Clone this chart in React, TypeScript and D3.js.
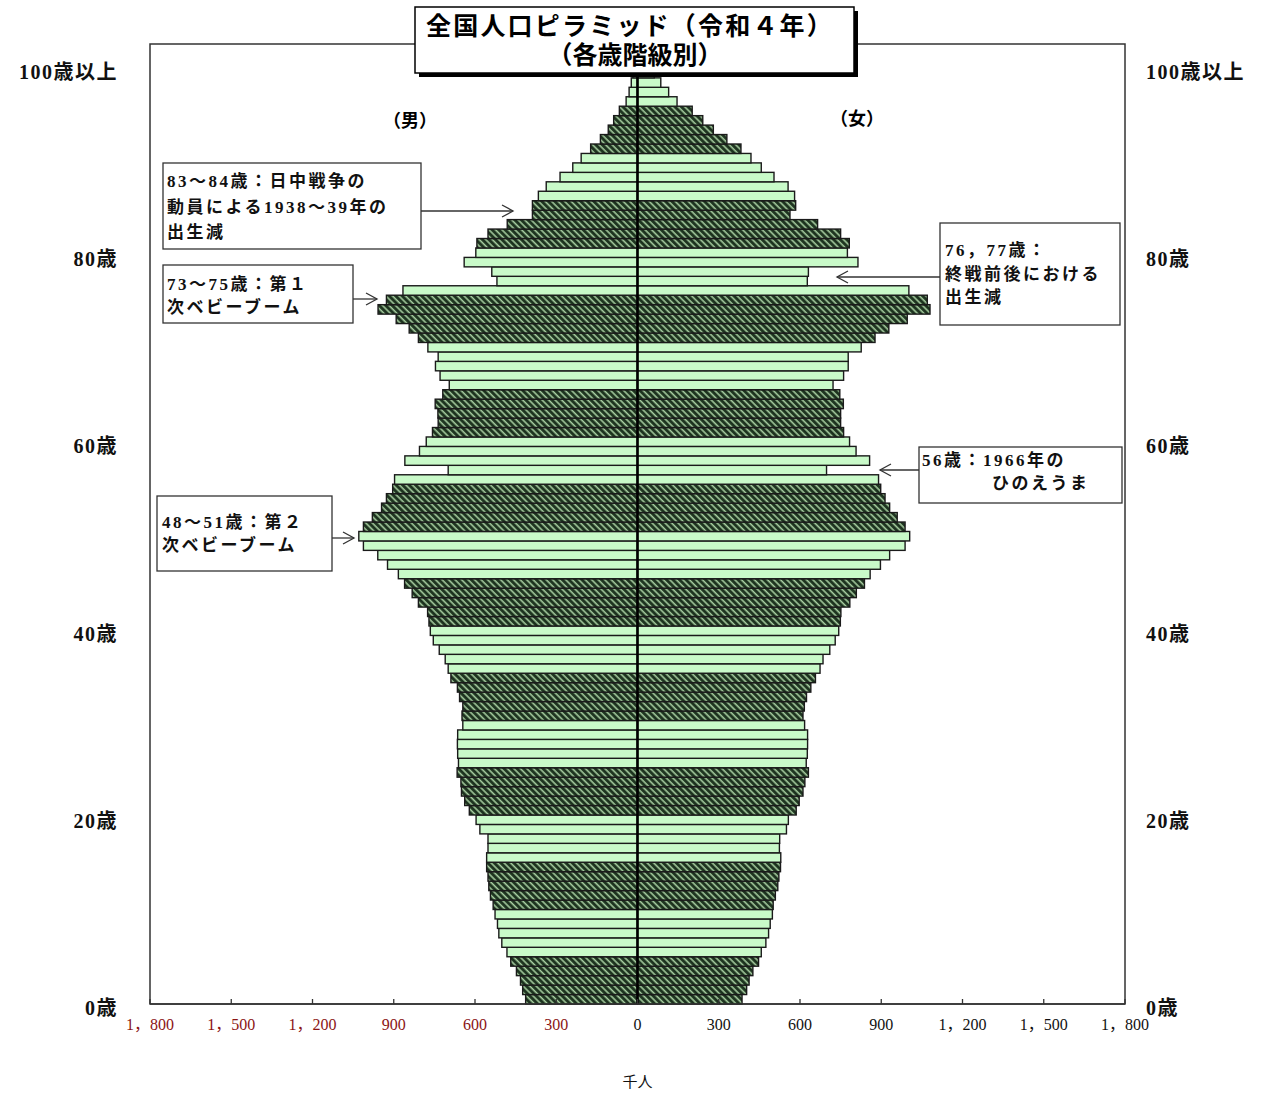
import React, { useRef, useEffect } from 'react';
import * as d3 from 'd3';

// ages 0 .. 100 (100 = 100歳以上)
const ages = d3.range(0, 101);

// 千人
const maleValues = [
  413, 424, 432, 447, 468, 482, 501, 512, 517, 526,
  533, 543, 549, 552, 557, 557, 552, 552, 582, 596,
  621, 638, 650, 652, 666, 661, 664, 665, 664, 645,
  648, 645, 657, 665, 689, 699, 710, 732, 754, 765,
  770, 775, 809, 832, 860, 883, 923, 959, 1012, 1029,
  1012, 979, 945, 927, 904, 897, 699, 859, 805, 780,
  757, 736, 737, 747, 719, 695, 729, 746, 736, 774,
  809, 843, 891, 958, 927, 866, 519, 538, 640, 597,
  593, 552, 481, 388, 388, 366, 337, 286, 239, 208,
  173, 137, 108, 88, 67, 42, 31, 23, 17, 12,
  10,
];

const femaleValues = [
  386, 403, 412, 426, 447, 457, 474, 484, 490, 498,
  501, 509, 518, 522, 528, 529, 524, 525, 550, 557,
  586, 597, 611, 618, 631, 623, 627, 628, 628, 617,
  611, 616, 624, 640, 657, 674, 685, 710, 730, 743,
  749, 751, 784, 808, 838, 859, 897, 931, 988, 1005,
  988, 959, 931, 914, 898, 890, 698, 857, 807, 783,
  761, 750, 750, 760, 747, 722, 761, 778, 778, 826,
  877, 928, 996, 1080, 1070, 1002, 627, 631, 814, 775,
  782, 750, 665, 563, 584, 580, 556, 504, 457, 419,
  382, 330, 280, 241, 202, 146, 115, 86, 62, 45,
  70,
];

const xTickValues = [-1800, -1500, -1200, -900, -600, -300, 0, 300, 600, 900, 1200, 1500, 1800];
const ageTickValues = [0, 20, 40, 60, 80, 100];
const ageTickLabels = ['0歳', '20歳', '40歳', '60歳', '80歳', '100歳以上'];

const titleLines = ['全国人口ピラミッド（令和４年）', '（各歳階級別）'];

const notes = [
  { lines: ['83～84歳：日中戦争の', '動員による1938～39年の', '出生減'], box: [163, 163, 258, 86], tx: [167, 167, 167], ty: [187, 213, 238], arrow: [421, 211, 513, 211] },
  { lines: ['73～75歳：第１', '次ベビーブーム'], box: [163, 265, 190, 58], tx: [167, 167], ty: [290, 313], arrow: [353, 299, 377, 299] },
  { lines: ['76，77歳：', '終戦前後における', '出生減'], box: [940, 223, 180, 102], tx: [945, 945, 945], ty: [256, 280, 303], arrow: [940, 277, 837, 277] },
  { lines: ['56歳：1966年の', 'ひのえうま'], box: [919, 447, 203, 56], tx: [922, 992], ty: [466, 489], arrow: [919, 470, 880, 470] },
  { lines: ['48～51歳：第２', '次ベビーブーム'], box: [157, 496, 175, 75], tx: [162, 162], ty: [528, 551], arrow: [332, 538, 354, 538] },
];

const FONT = '"Liberation Serif", "Noto Sans CJK JP", serif';

const App: React.FC = () => {
  const svgRef = useRef<SVGSVGElement>(null);
  const width = 1269;
  const height = 1095;

  useEffect(() => {
    if (!svgRef.current) return;
    const svg = d3.select(svgRef.current);
    svg.selectAll('*').remove();

    const left = 150;
    const right = 1125;
    const bottom = 1004;
    const frameTop = 44;

    const x = d3.scaleLinear().domain([-1800, 1800]).range([left, right]);
    const y = d3
      .scaleBand<number>()
      .domain(ages)
      .range([bottom, 49.5])
      .padding(0);
    const labelY = d3.scaleLinear().domain([0, 100]).range([1008, 72]);

    // hatch pattern
    const defs = svg.append('defs');
    const pat = defs
      .append('pattern')
      .attr('id', 'hatch')
      .attr('patternUnits', 'userSpaceOnUse')
      .attr('width', 4.6)
      .attr('height', 4.6)
      .attr('patternTransform', 'rotate(-45)');
    pat.append('rect').attr('width', 4.6).attr('height', 4.6).attr('fill', '#a6cc9f');
    pat
      .append('line')
      .attr('x1', 1.6)
      .attr('y1', 0)
      .attr('x2', 1.6)
      .attr('y2', 4.6)
      .attr('stroke', '#1c321e')
      .attr('stroke-width', 3);

    // frame
    svg
      .append('rect')
      .attr('x', left)
      .attr('y', frameTop)
      .attr('width', right - left)
      .attr('height', bottom - frameTop)
      .attr('fill', 'none')
      .attr('stroke', '#333')
      .attr('stroke-width', 1.5);

    const fillFor = (a: number) => (Math.floor(a / 5) % 2 === 0 ? 'url(#hatch)' : '#c9fac9');

    const bars = svg.append('g');
    // male
    bars
      .selectAll('.male')
      .data(ages)
      .enter()
      .append('rect')
      .attr('class', 'male')
      .attr('x', (a) => x(-maleValues[a]))
      .attr('y', (a) => y(a) as number)
      .attr('width', (a) => x(0) - x(-maleValues[a]))
      .attr('height', y.bandwidth())
      .attr('fill', (a) => fillFor(a))
      .attr('stroke', '#1a1a1a')
      .attr('stroke-width', 1.4);
    // female
    bars
      .selectAll('.female')
      .data(ages)
      .enter()
      .append('rect')
      .attr('class', 'female')
      .attr('x', x(0))
      .attr('y', (a) => y(a) as number)
      .attr('width', (a) => x(femaleValues[a]) - x(0))
      .attr('height', y.bandwidth())
      .attr('fill', (a) => fillFor(a))
      .attr('stroke', '#1a1a1a')
      .attr('stroke-width', 1.4);

    // centre line
    svg
      .append('line')
      .attr('x1', x(0))
      .attr('x2', x(0))
      .attr('y1', 49.5)
      .attr('y2', bottom)
      .attr('stroke', '#000')
      .attr('stroke-width', 2.6);

    // x axis ticks
    const axis = svg.append('g');
    axis
      .append('line')
      .attr('x1', left)
      .attr('x2', right)
      .attr('y1', bottom)
      .attr('y2', bottom)
      .attr('stroke', '#333')
      .attr('stroke-width', 1.5);
    axis
      .selectAll('.tick')
      .data(xTickValues)
      .enter()
      .append('line')
      .attr('x1', (d) => x(d))
      .attr('x2', (d) => x(d))
      .attr('y1', bottom)
      .attr('y2', bottom - 5)
      .attr('stroke', '#333')
      .attr('stroke-width', 1.3);
    axis
      .selectAll('.tlabel')
      .data(xTickValues)
      .enter()
      .append('text')
      .attr('x', (d) => x(d))
      .attr('y', 1030)
      .attr('text-anchor', 'middle')
      .attr('font-family', FONT)
      .attr('font-size', 16)
      .attr('fill', (d) => (d < 0 ? '#8b1414' : '#111'))
      .text((d) => d3.format(',')(Math.abs(d)).replace(',', '，'));

    svg
      .append('text')
      .attr('x', x(0))
      .attr('y', 1087)
      .attr('text-anchor', 'middle')
      .attr('font-family', FONT)
      .attr('font-size', 15)
      .attr('fill', '#111')
      .text('千人');

    // age labels both sides
    const ageLab = svg
      .append('g')
      .attr('font-family', FONT)
      .attr('font-size', 20)
      .attr('font-weight', 'bold')
      .attr('fill', '#111');
    ageTickValues.forEach((a, i) => {
      ageLab
        .append('text')
        .attr('x', 118)
        .attr('y', labelY(a) + 7)
        .attr('text-anchor', 'end')
        .attr('letter-spacing', 1.5)
        .text(ageTickLabels[i]);
      ageLab
        .append('text')
        .attr('x', 1146)
        .attr('y', labelY(a) + 7)
        .attr('text-anchor', 'start')
        .attr('letter-spacing', 1.5)
        .text(ageTickLabels[i]);
    });

    // 男 / 女
    svg
      .append('text')
      .attr('x', 410)
      .attr('y', 127)
      .attr('text-anchor', 'middle')
      .attr('font-family', FONT)
      .attr('font-size', 18)
      .attr('font-weight', 'bold')
      .text('（男）');
    svg
      .append('text')
      .attr('x', 857)
      .attr('y', 125)
      .attr('text-anchor', 'middle')
      .attr('font-family', FONT)
      .attr('font-size', 18)
      .attr('font-weight', 'bold')
      .text('（女）');

    // annotations
    notes.forEach((n) => {
      const g = svg.append('g');
      const [bx, by, bw, bh] = n.box;
      g.append('rect')
        .attr('x', bx)
        .attr('y', by)
        .attr('width', bw)
        .attr('height', bh)
        .attr('fill', '#fff')
        .attr('stroke', '#333')
        .attr('stroke-width', 1.3);
      n.lines.forEach((t, i) => {
        g.append('text')
          .attr('x', n.tx[i])
          .attr('y', n.ty[i])
          .attr('font-family', FONT)
          .attr('font-size', 17)
          .attr('font-weight', 'bold')
          .attr('letter-spacing', 2.5)
          .attr('fill', '#111')
          .text(t);
      });
      const [x1, y1, x2, y2] = n.arrow;
      const dir = Math.sign(x2 - x1);
      g.append('line')
        .attr('x1', x1)
        .attr('y1', y1)
        .attr('x2', x2)
        .attr('y2', y2)
        .attr('stroke', '#333')
        .attr('stroke-width', 1.3);
      g.append('path')
        .attr('d', `M${x2 - dir * 11},${y2 - 6}L${x2},${y2}L${x2 - dir * 11},${y2 + 6}`)
        .attr('fill', 'none')
        .attr('stroke', '#333')
        .attr('stroke-width', 1.3);
    });

    // title box with shadow
    const tb = { x: 415, y: 7, w: 439, h: 66 };
    svg
      .append('rect')
      .attr('x', tb.x + 4)
      .attr('y', tb.y + 4)
      .attr('width', tb.w)
      .attr('height', tb.h)
      .attr('fill', '#000');
    svg
      .append('rect')
      .attr('x', tb.x)
      .attr('y', tb.y)
      .attr('width', tb.w)
      .attr('height', tb.h)
      .attr('fill', '#fff')
      .attr('stroke', '#000')
      .attr('stroke-width', 1.5);
    svg
      .append('text')
      .attr('x', 630)
      .attr('y', 35)
      .attr('text-anchor', 'middle')
      .attr('font-family', FONT)
      .attr('font-size', 25)
      .attr('font-weight', 'bold')
      .attr('letter-spacing', 2.2)
      .text(titleLines[0]);
    svg
      .append('text')
      .attr('x', 635)
      .attr('y', 64)
      .attr('text-anchor', 'middle')
      .attr('font-family', FONT)
      .attr('font-size', 25)
      .attr('font-weight', 'bold')
      .text(titleLines[1]);
  }, []);

  return (
    <div style={{ position: 'absolute', left: 0, top: 0, background: '#fff' }}>
      <svg ref={svgRef} width={width} height={height} />
    </div>
  );
};

export default App;
